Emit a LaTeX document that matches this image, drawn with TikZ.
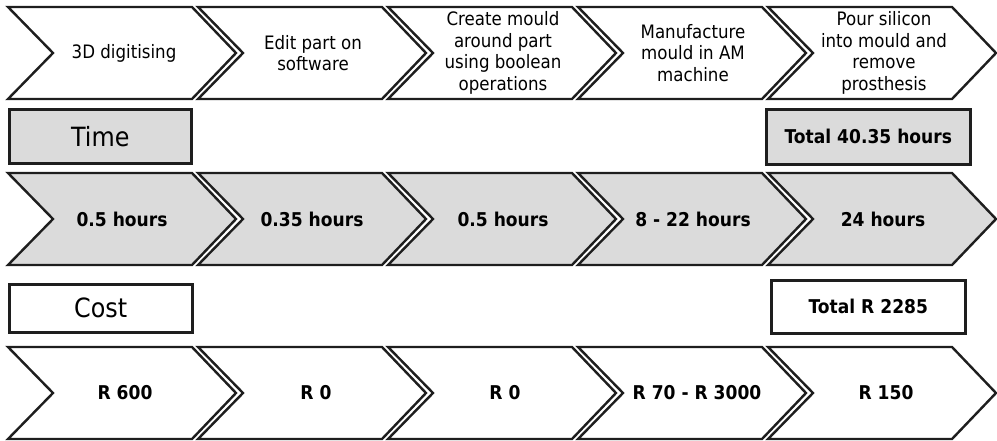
\documentclass[tikz,border=0pt]{standalone}
\usepackage{fontspec}
\setmainfont{DejaVu Sans}[FakeStretch=0.9]
\definecolor{linec}{HTML}{1E1E1E}
\definecolor{grayf}{HTML}{DBDBDB}
\begin{document}
\begin{tikzpicture}[x=1pt,y=-1pt,
  outl/.style={draw=linec, line width=2.4pt, line join=miter},
  chevron/.pic={\path[pic actions] (0,0) -- (184,0) -- (228,46) -- (184,92) -- (0,92) -- (45,46) -- cycle;},
  steptxt/.style={align=center, inner sep=0pt, font=\fontsize{18.5}{21.5}\selectfont},
  valtxt/.style={align=center, inner sep=0pt, font=\fontsize{19}{22}\selectfont\bfseries},
  headbox/.style={draw=linec, line width=2.5pt, inner sep=0pt, anchor=north west, font=\fontsize{26.5}{30}\selectfont},
  totbox/.style={draw=linec, line width=2.5pt, inner sep=0pt, anchor=north west, font=\fontsize{19}{22}\selectfont\bfseries}]
\useasboundingbox (0,0) rectangle (997,440);
% row 1: process steps
\foreach \i in {0,...,4} {\pic[outl, fill=white] at ({8+190*\i},7) {chevron};}
\node[steptxt] (p1) at (124,53) {3D digitising};
\node[steptxt] (p2) at (313,53) {Edit part on\\software};
\node[steptxt] (p3) at (503,53) {Create mould\\around part\\using boolean\\operations};
\node[steptxt] (p4) at (693,53) {Manufacture\\mould in AM\\machine};
\node[steptxt] (p5) at (884,53) {Pour silicon\\into mould and\\remove\\prosthesis};
% time header
\node[headbox, fill=grayf, minimum width=182pt, minimum height=54pt] (time) at (8,108) {Time};
\node[totbox, fill=grayf, minimum width=204pt, minimum height=55pt] (ttime) at (765,108) {Total 40.35 hours};
% row 3: times
\foreach \i in {0,...,4} {\pic[outl, fill=grayf] at ({8+190*\i},173) {chevron};}
\node[valtxt] (t1) at (122,219) {0.5 hours};
\node[valtxt] (t2) at (312,219) {0.35 hours};
\node[valtxt] (t3) at (503,219) {0.5 hours};
\node[valtxt] (t4) at (693,219) {8 - 22 hours};
\node[valtxt] (t5) at (883,219) {24 hours};
% cost header
\node[headbox, fill=white, minimum width=183pt, minimum height=48pt] (cost) at (8,283) {Cost};
\node[totbox, fill=white, minimum width=194pt, minimum height=53pt] (tcost) at (770,279) {Total R 2285};
% row 5: costs
\foreach \i in {0,...,4} {\pic[outl, fill=white] at ({8+190*\i},347) {chevron};}
\node[valtxt] (c1) at (125,393) {R 600};
\node[valtxt] (c2) at (316,393) {R 0};
\node[valtxt] (c3) at (505,393) {R 0};
\node[valtxt] (c4) at (697,393) {R 70 - R 3000};
\node[valtxt] (c5) at (886,393) {R 150};
\end{tikzpicture}
\end{document}
